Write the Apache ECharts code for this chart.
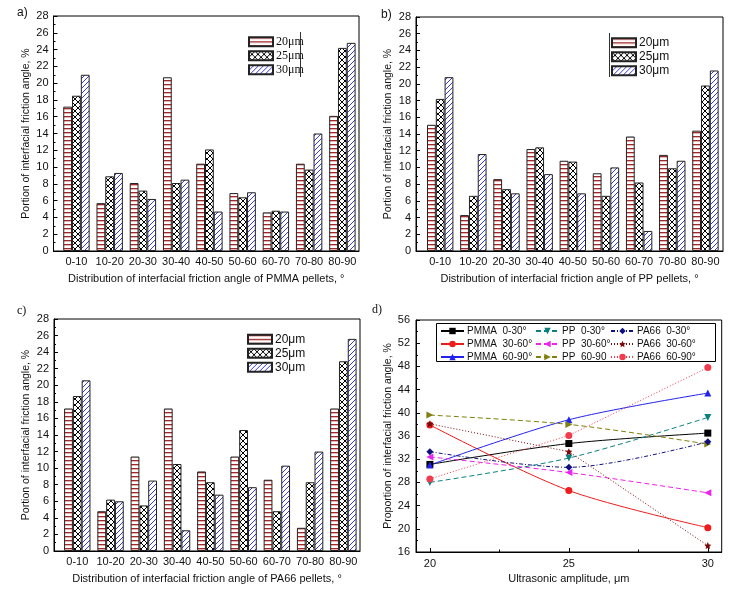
<!DOCTYPE html>
<html><head><meta charset="utf-8">
<script src="https://cdn.jsdelivr.net/npm/echarts@6/dist/echarts.min.js"></script>
<style>html,body{margin:0;padding:0;background:#fff}#c{width:730px;height:591px}</style>
</head><body><div id="c"></div>
<script>
// ---------- data ----------
const categories = ['0-10','10-20','20-30','30-40','40-50','50-60','60-70','70-80','80-90'];
const barNames = ['20\u03bcm','25\u03bcm','30\u03bcm'];
const yTicksBar = [0,2,4,6,8,10,12,14,16,18,20,22,24,26,28];

const pmma20 = [17.2, 5.7, 8.1, 20.7, 10.4, 6.9, 4.6, 10.4, 16.1];
const pmma25 = [18.5, 8.9, 7.2, 8.1, 12.1, 6.4, 4.8, 9.7, 24.2];
const pmma30 = [21.0, 9.3, 6.2, 8.5, 4.7, 7.0, 4.7, 14.0, 24.8];

const pp20 = [15.1, 4.3, 8.6, 12.2, 10.8, 9.3, 13.7, 11.5, 14.4];
const pp25 = [18.2, 6.6, 7.4, 12.4, 10.7, 6.6, 8.2, 9.9, 19.8];
const pp30 = [20.8, 11.6, 6.9, 9.2, 6.9, 10.0, 2.4, 10.8, 21.6];

const pa20 = [17.2, 4.8, 11.4, 17.2, 9.6, 11.4, 8.6, 2.8, 17.2];
const pa25 = [18.7, 6.2, 5.5, 10.5, 8.3, 14.6, 4.8, 8.3, 22.9];
const pa30 = [20.6, 6.0, 8.5, 2.5, 6.8, 7.7, 10.3, 12.0, 25.6];

const amplitudes = [20, 25, 30];
const ampTicks = [20, 25, 30];
const ampMinor = [22.5, 27.5];
const pmma_0_30  = [31.1, 34.7, 36.5];
const pmma_30_60 = [37.9, 26.6, 20.2];
const pmma_60_90 = [31.0, 38.8, 43.4];
const pp_0_30    = [28.0, 32.2, 39.2];
const pp_30_60   = [32.4, 29.7, 26.2];
const pp_60_90   = [39.6, 38.0, 34.6];
const pa_0_30    = [33.3, 30.6, 35.0];
const pa_30_60   = [38.1, 33.3, 17.1];
const pa_60_90   = [28.6, 36.1, 47.8];

// ---------- patterns ----------
function pattern(kind){
  const c = document.createElement('canvas');
  const ctx = c.getContext('2d');
  if(kind==='h'){
    c.width=4;c.height=4;
    ctx.fillStyle='#fff';ctx.fillRect(0,0,4,4);
    ctx.fillStyle='#a02828';ctx.fillRect(0,0,4,1);
    ctx.fillStyle='#e6b4b4';ctx.fillRect(0,1,4,1);
  } else if(kind==='x'){
    c.width=6;c.height=6;
    ctx.fillStyle='#fff';ctx.fillRect(0,0,6,6);
    ctx.strokeStyle='#000';ctx.lineWidth=1;
    ctx.beginPath();
    ctx.moveTo(-1,-1);ctx.lineTo(7,7);
    ctx.moveTo(7,-1);ctx.lineTo(-1,7);
    ctx.stroke();
  } else {
    c.width=5;c.height=5;
    ctx.fillStyle='#fff';ctx.fillRect(0,0,5,5);
    ctx.strokeStyle='#3b3bd6';ctx.lineWidth=1;
    ctx.beginPath();
    ctx.moveTo(-1,6);ctx.lineTo(6,-1);
    ctx.moveTo(-1,1);ctx.lineTo(1,-1);
    ctx.moveTo(4,6);ctx.lineTo(6,4);
    ctx.stroke();
  }
  return {image:c, repeat:'repeat'};
}
const pats = [pattern('h'), pattern('x'), pattern('/')];

const FONT = '"Liberation Sans", Arial, sans-serif';
const SERIF = '"Liberation Serif", "Times New Roman", serif';

// ---------- layout ----------
const grids = [
  {left:53.5, top:16, width:305.5, height:235},
  {left:416, top:17, width:307, height:234},
  {left:54, top:319, width:306, height:232},
  {left:416, top:320, width:305.7, height:232}
];
const barX = [{min:0.31,max:9.5},{min:0.27,max:9.53},{min:0.3,max:9.5}];
const xTitles = [
  'Distribution of interfacial friction angle of PMMA pellets, \u00b0',
  'Distribution of interfacial friction angle of PP pellets, \u00b0',
  'Distribution of interfacial friction angle of PA66 pellets, \u00b0'
];
const barSets = [[pmma20,pmma25,pmma30],[pp20,pp25,pp30],[pa20,pa25,pa30]];

const xAxis = [], yAxis = [], series = [], legend = [];
for(let g=0; g<3; g++){
  xAxis.push({
    type:'value', gridIndex:g, min:barX[g].min, max:barX[g].max,
    axisLine:{lineStyle:{color:'#000',width:1}},
    axisTick:{show:false},
    splitLine:{show:false},
    axisLabel:{customValues:categories.map((c,i)=>i+1), formatter:v=>categories[Math.round(v)-1],
      color:'#111', fontFamily:FONT, fontSize:11, margin:5},
    name:xTitles[g], nameLocation:'middle', nameGap:22,
    nameTextStyle:{color:'#111', fontFamily:FONT, fontSize:11}
  });
  yAxis.push({
    type:'value', gridIndex:g, min:0, max:28, interval:2,
    axisLine:{show:true, lineStyle:{color:'#000',width:1}},
    axisTick:{show:true, inside:true, length:4, lineStyle:{color:'#000'}},
    minorTick:{show:true, splitNumber:2, length:2, lineStyle:{color:'#000'}},
    splitLine:{show:false},
    axisLabel:{color:'#111', fontFamily:FONT, fontSize:11, margin:5},
    name:'Portion of interfacial friction angle, %', nameLocation:'middle', nameGap:22, nameRotate:90,
    nameTextStyle:{color:'#111', fontFamily:FONT, fontSize:10.5}
  });
  for(let s=0; s<3; s++){
    series.push({
      type:'bar', name:barNames[s], xAxisIndex:g, yAxisIndex:g,
      data:barSets[g][s].map((v,i)=>[i+1, v]),
      barWidth:8.8, barGap:'0%',
      itemStyle:{color:pats[s], borderColor:'#222', borderWidth:1},
      emphasis:{disabled:true}
    });
  }
}
const legendPos = [
  {left:248, top:35.7, font:SERIF},
  {left:611, top:36.7, font:FONT},
  {left:247, top:333.3, font:FONT}
];
legendPos.forEach((p,g)=>{
  legend.push({
    orient:'vertical', left:p.left, top:p.top, padding:0, itemGap:2,
    itemWidth:24, itemHeight:9, icon:'rect',
    data:barNames.map(n=>({name:n})),
    textStyle:{fontFamily:p.font, fontSize:12, color:'#111', lineHeight:10, padding:[0,0,0,-2]},
    selectedMode:false
  });
});

// panel d
xAxis.push({
  type:'value', gridIndex:3, min:19.5, max:30.5,
  axisLine:{lineStyle:{color:'#000',width:1}},
  axisTick:{show:true, inside:true, length:4, customValues:ampTicks, lineStyle:{color:'#000'}},
  axisLabel:{customValues:ampTicks, color:'#111', fontFamily:FONT, fontSize:11, margin:6},
  splitLine:{show:false},
  name:'Ultrasonic amplitude, \u03bcm', nameLocation:'middle', nameGap:21,
  nameTextStyle:{color:'#111', fontFamily:FONT, fontSize:11}
});
xAxis.push({
  type:'value', gridIndex:3, min:19.5, max:30.5, position:'bottom',
  axisLine:{show:false},
  axisTick:{show:true, inside:true, length:2.5, customValues:ampMinor, lineStyle:{color:'#000'}},
  axisLabel:{show:false}, splitLine:{show:false}
});
yAxis.push({
  type:'value', gridIndex:3, min:16, max:56, interval:4,
  axisLine:{show:true, lineStyle:{color:'#000',width:1}},
  axisTick:{show:true, inside:true, length:4, lineStyle:{color:'#000'}},
  minorTick:{show:true, splitNumber:2, length:2, lineStyle:{color:'#000'}},
  splitLine:{show:false},
  axisLabel:{color:'#111', fontFamily:FONT, fontSize:11, margin:6},
  name:'Proportion of interfacial friction angle, %', nameLocation:'middle', nameGap:22, nameRotate:90,
  nameTextStyle:{color:'#111', fontFamily:FONT, fontSize:10.5}
});

const star = 'path://M0,-10 L2.9,-4 L9.5,-3.1 L4.7,1.5 L5.9,8.1 L0,5 L-5.9,8.1 L-4.7,1.5 L-9.5,-3.1 L-2.9,-4 Z';
const lineDefs = [
  {name:'PMMA  0-30\u00b0',  data:pmma_0_30,  color:'#000000', type:'solid',  symbol:'rect', rot:0, sm:0.3},
  {name:'PMMA  30-60\u00b0', data:pmma_30_60, color:'#ee1c1c', type:'solid',  symbol:'circle', rot:0, sm:0.3},
  {name:'PMMA  60-90\u00b0', data:pmma_60_90, color:'#2222ee', type:'solid',  symbol:'triangle', rot:0, sm:0.3},
  {name:'PP  0-30\u00b0',    data:pp_0_30,    color:'#0a8080', type:[5,3],    symbol:'triangle', rot:180, sm:0.3},
  {name:'PP  30-60\u00b0',   data:pp_30_60,   color:'#ee22ee', type:[5,3],    symbol:'triangle', rot:90, sm:0.3},
  {name:'PP  60-90',         data:pp_60_90,   color:'#808010', type:[5,3],    symbol:'triangle', rot:-90, sm:0.3},
  {name:'PA66  0-30\u00b0',  data:pa_0_30,    color:'#101080', type:[4,2,1,2],symbol:'diamond', rot:0, sm:0.3},
  {name:'PA66  30-60\u00b0', data:pa_30_60,   color:'#7a0a0a', type:[1,2],    symbol:star, rot:0, sm:false},
  {name:'PA66  60-90\u00b0', data:pa_60_90,   color:'#f03c4c', type:[1,2],    symbol:'circle', rot:0, sm:false}
];
lineDefs.forEach(d=>{
  series.push({
    type:'line', name:d.name, xAxisIndex:3, yAxisIndex:3,
    data:amplitudes.map((a,i)=>[a, d.data[i]]),
    smooth:d.sm, symbol:d.symbol, symbolRotate:d.rot, symbolSize:7,
    lineStyle:{color:d.color, width:1, type:d.type},
    itemStyle:{color:d.color},
    emphasis:{disabled:true}
  });
});
const legCols = [[0,1,2],[3,4,5],[6,7,8]];
const legLeft = [440, 535, 610];
legCols.forEach((ids,k)=>{
  legend.push({
    orient:'vertical', left:legLeft[k], top:325.5, padding:0, itemGap:2,
    itemWidth:23, itemHeight:8,
    data:ids.map(i=>({name:lineDefs[i].name})),
    textStyle:{fontFamily:FONT, fontSize:10, color:'#111', lineHeight:11, padding:[0,0,0,-2]},
    selectedMode:false
  });
});

const option = {
  animation:false,
  backgroundColor:'#ffffff',
  grid:grids.map(g=>Object.assign({show:true, borderColor:'#000', borderWidth:1, backgroundColor:'transparent'}, g)),
  xAxis, yAxis, series, legend,
  graphic:[
    {type:'text', left:17, top:7, style:{text:'a)', font:'12px '+FONT, fill:'#111'}},
    {type:'text', left:381, top:9, style:{text:'b)', font:'12px '+FONT, fill:'#111'}},
    {type:'text', left:17, top:305, style:{text:'c)', font:'12px '+SERIF, fill:'#111'}},
    {type:'text', left:372, top:304, style:{text:'d)', font:'12px '+SERIF, fill:'#111'}},
    {type:'line', shape:{x1:300.5,y1:32,x2:300.5,y2:77}, style:{stroke:'#333',lineWidth:1}},
    {type:'line', shape:{x1:609.5,y1:33,x2:609.5,y2:77}, style:{stroke:'#333',lineWidth:1}},
    {type:'rect', shape:{x:436.5,y:323.5,width:279,height:38}, style:{fill:'none', stroke:'#000', lineWidth:1}}
  ]
};
const chart = echarts.init(document.getElementById('c'), null, {renderer:'canvas'});
chart.setOption(option);
</script>
</body></html>
